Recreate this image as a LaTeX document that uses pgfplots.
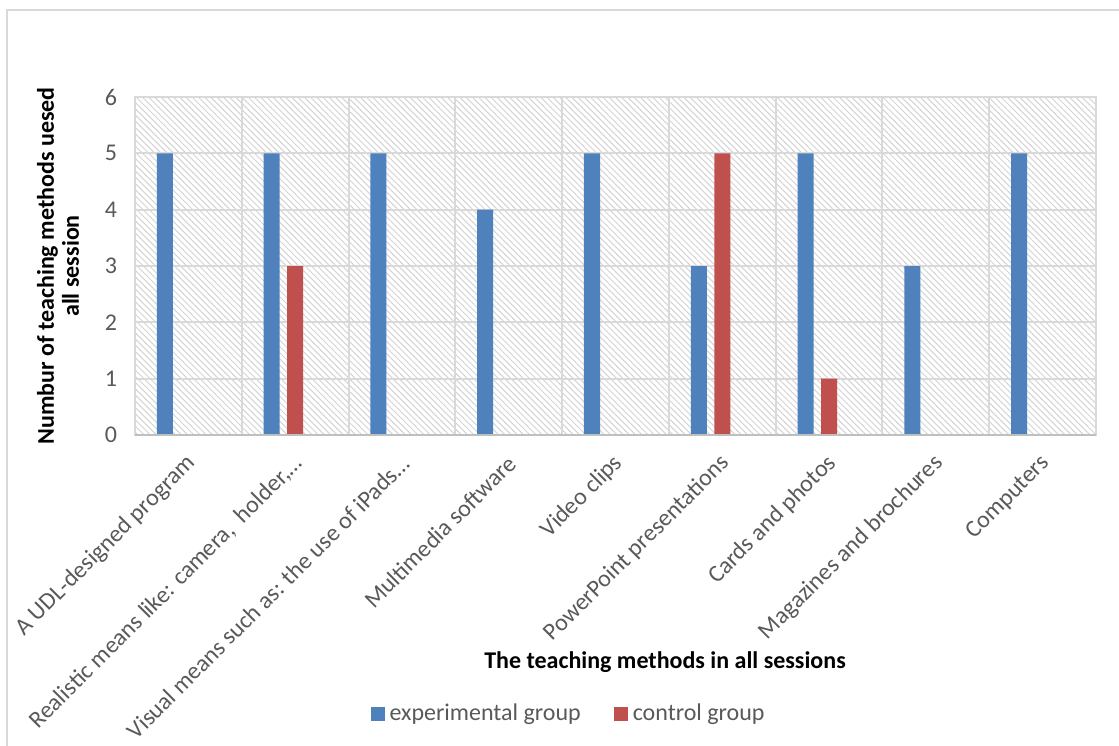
\documentclass[border=0pt]{standalone}
\usepackage{fontspec}
\setmainfont{Carlito}
\usepackage{pgfplots}
\pgfplotsset{compat=1.18}
\usetikzlibrary{patterns.meta}

\definecolor{expblue}{HTML}{4F81BD}
\definecolor{ctrlred}{HTML}{C0504D}
\definecolor{gridgray}{HTML}{D9D9D9}
\definecolor{axisgray}{HTML}{BFBFBF}
\definecolor{labelgray}{HTML}{595959}
\definecolor{hatchgray}{HTML}{D4D4D4}

\begin{document}
\begin{tikzpicture}
\useasboundingbox (0,0) rectangle (559.5pt,-372.5pt);
% chart area frame
\draw[gridgray, line width=0.6pt] (3.5pt,-400pt) -- (3.5pt,-5pt) -- (600pt,-5pt);

\begin{axis}[
  at={(67.5pt,-217.5pt)}, anchor=south west,
  scale only axis, width=480.5pt, height=169pt,
  xmin=-0.5, xmax=8.5, ymin=0, ymax=6,
  ytick={0,...,6},
  xtick={0,...,8},
  xticklabels={
    A UDL-designed program,
    {Realistic means like: camera,\ \ holder,…},
    {Visual means such as: the use of iPads…},
    Multimedia software,
    Video clips,
    PowerPoint presentations,
    Cards and photos,
    Magazines and brochures,
    Computers},
  minor xtick={-0.5,0.5,...,8.5},
  xmajorgrids=false, xminorgrids=true, ymajorgrids=true,
  grid style={gridgray, line width=1pt},
  minor grid style={gridgray, line width=1pt},
  major tick length=0pt, minor tick length=0pt,
  axis line style={gridgray, line width=1pt},
  axis background/.style={fill=white,
    postaction={pattern={Lines[angle=-45,distance=2.2pt,line width=0.5pt]},
                pattern color=hatchgray}},
  /pgf/number format/assume math mode=true,
  tick label style={font=\fontsize{12}{14}\selectfont, text=labelgray},
  yticklabel style={xshift=-5.5pt},
  xticklabel style={rotate=45, anchor=east, xshift=-4pt, yshift=-10pt},
  legend style={at={(0.4527,-0.825)}, anchor=center, legend columns=2,
    draw=none, fill=none, font=\fontsize{12}{14}\selectfont, text=labelgray,
    /tikz/every even column/.append style={column sep=14pt},
    nodes={inner sep=2.5pt}},
  legend image code/.code={\fill[#1] (0pt,-3.5pt) rectangle (7pt,3.5pt);},
]
\addplot[ybar, bar width=0.15, bar shift=-0.22, fill=expblue, draw=none]
  coordinates {(0,5) (1,5) (2,5) (3,4) (4,5) (5,3) (6,5) (7,3) (8,5)};
\addlegendentry{experimental group}
\addplot[ybar, bar width=0.15, bar shift=0, fill=ctrlred, draw=none]
  coordinates {(0,0) (1,3) (2,0) (3,0) (4,0) (5,5) (6,1) (7,0) (8,0)};
\addlegendentry{control group}
\draw[axisgray, line width=1pt] (rel axis cs:0,0) -- (rel axis cs:1,0);
\end{axis}

% axis titles
\node[font=\fontsize{12}{14}\bfseries] at (332.5pt,-331pt)
  {The teaching methods in all sessions};
\node[font=\fontsize{12}{12.5}\bfseries, rotate=90, align=center] at (29pt,-133pt)
  {Numbur of teaching methods uesed\\all session};
\end{tikzpicture}
\end{document}
